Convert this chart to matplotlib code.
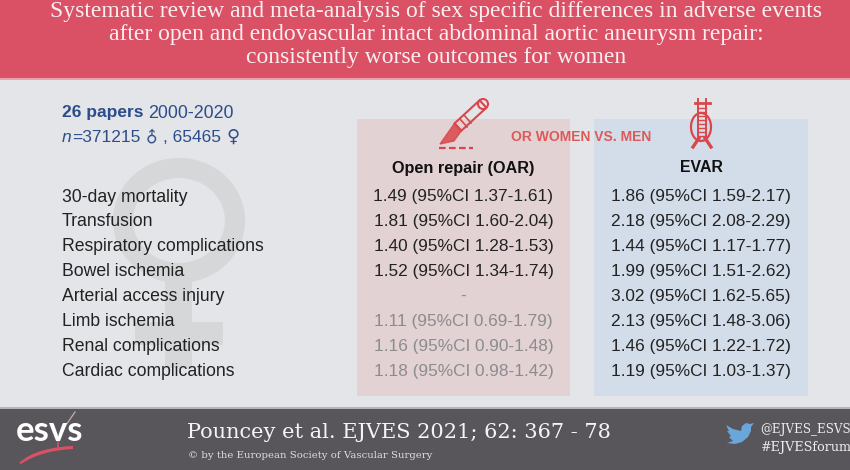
#!/usr/bin/env python3
"""Sex specific differences after AAA repair, graphical abstract."""
import matplotlib
matplotlib.use("Agg")
import matplotlib.pyplot as plt
from matplotlib.patches import Circle, Ellipse, PathPatch, Polygon, Rectangle
from matplotlib.path import Path

OUTCOMES = ["30-day mortality", "Transfusion", "Respiratory complications", "Bowel ischemia",
            "Arterial access injury", "Limb ischemia", "Renal complications", "Cardiac complications"]
OAR_OR = [1.49, 1.81, 1.40, 1.52, None, 1.11, 1.16, 1.18]
OAR_LOW = [1.37, 1.60, 1.28, 1.34, None, 0.69, 0.90, 0.98]
OAR_HIGH = [1.61, 2.04, 1.53, 1.74, None, 1.79, 1.48, 1.42]
EVAR_OR = [1.86, 2.18, 1.44, 1.99, 3.02, 2.13, 1.46, 1.19]
EVAR_LOW = [1.59, 2.08, 1.17, 1.51, 1.62, 1.48, 1.22, 1.03]
EVAR_HIGH = [2.17, 2.29, 1.77, 2.62, 5.65, 3.06, 1.72, 1.37]
TITLE_LINES = ["Systematic review and meta-analysis of sex specific differences in adverse events",
               "after open and endovascular intact abdominal aortic aneurysm repair:",
               "consistently worse outcomes for women"]

RED = "#da5064"
ICON_RED = "#d9474c"
BLUE = "#2c4d8c"
SANS = "Liberation Sans"
SERIF = "Liberation Serif"


def ci_label(value, low, high):
    if value is None:
        return "-"
    return f"{value:.2f} (95%CI {low:.2f}-{high:.2f})"


def is_grey(value, low):
    # confidence interval crosses 1 or no estimate
    return value is None or low < 1


def draw_scalpel(axis):
    axis.add_patch(Circle((483, 104), 5, fc="none", ec=ICON_RED, lw=1.5))
    axis.add_patch(Polygon([[479.6, 100.3], [454.6, 123.3], [461.4, 130.7], [486.4, 107.7]],
                           fc="none", ec=ICON_RED, lw=1.5))
    axis.add_patch(Polygon([[454.6, 123.3], [440, 144], [454, 141], [461.4, 130.7]],
                           fc=ICON_RED, ec=ICON_RED, lw=1, alpha=0.85))
    for start, end in [((460, 119), (467, 127)), ((464, 115), (471, 123))]:
        axis.plot([start[0], end[0]], [start[1], end[1]], color=ICON_RED, lw=1.2)
    axis.plot([439, 473], [148, 148], color=ICON_RED, lw=1.6, ls=(0, (3, 1.5)))


def draw_stent(axis):
    axis.plot([695, 710], [103, 103], color=ICON_RED, lw=2)
    axis.add_patch(Ellipse((701, 127), 20, 28, fc="none", ec=ICON_RED, lw=1.6))
    axis.plot([698, 698], [99, 140], color=ICON_RED, lw=1.4)
    axis.plot([706, 706], [99, 140], color=ICON_RED, lw=1.4)
    axis.plot([699, 693], [138, 147], color=ICON_RED, lw=2.4)
    axis.plot([705, 711], [138, 147], color=ICON_RED, lw=2.4)
    for level in range(108, 142, 4):
        axis.plot([698, 706], [level, level], color=ICON_RED, lw=1)


def draw_footer_marks(axis):
    # esvs logo swoosh
    swoosh = Path([(19, 463), (32, 451), (52, 447), (73, 446), (73, 449), (54, 450), (36, 454), (21, 464), (19, 463)],
                  [Path.MOVETO, Path.CURVE4, Path.CURVE4, Path.CURVE4, Path.LINETO,
                   Path.CURVE4, Path.CURVE4, Path.CURVE4, Path.CLOSEPOLY])
    axis.add_patch(PathPatch(swoosh, fc=RED, ec="none", zorder=3))
    axis.plot([58, 58], [441, 448], color=RED, lw=1.2, zorder=3)
    axis.plot([58, 66, 75], [441, 425, 412], color="#c9aab0", lw=0.9, zorder=2)
    axis.text(50, 441, "esvs", color="white", family="Lato", weight="bold", fontsize=25,
              ha="center", va="baseline", zorder=4)
    # twitter bird
    bird = [[726, 425], [733, 429], [741, 431], [742, 426], [746, 423], [750, 424], [754, 423],
            [751, 427], [751, 431], [748, 437], [742, 442], [735, 444], [727, 443], [733, 441],
            [729, 437], [731, 436], [727, 431], [729, 431]]
    axis.add_patch(Polygon(bird, fc="#6aa6da", ec="none"))


def main():
    figure = plt.figure(figsize=(8.5, 4.7), dpi=100, facecolor="#e4e5e8")
    axis = figure.add_axes([0, 0, 1, 1])
    axis.set_xlim(0, 850)
    axis.set_ylim(470, 0)
    axis.axis("off")

    # banners
    axis.add_patch(Rectangle((0, 0), 850, 78, fc=RED, ec="none"))
    axis.add_patch(Rectangle((0, 78), 850, 2, fc="#eea0aa", ec="none"))
    axis.add_patch(Rectangle((0, 408), 850, 62, fc="#58565a", ec="none"))
    axis.add_patch(Rectangle((0, 407), 850, 2, fc="#b5b5b7", ec="none"))
    for index, line in enumerate(TITLE_LINES):
        axis.text(436, 12 + index * 22.8, line, color="#fbeef0", family=SERIF, fontsize=17,
                  ha="center", va="center")

    # venus watermark
    grey = "#d6d7d9"
    axis.add_patch(Ellipse((179, 220.5), 112, 105, fc="none", ec=grey, lw=14.5))
    axis.add_patch(Rectangle((165, 278), 27, 90, fc=grey, ec="none"))
    axis.add_patch(Rectangle((135, 322), 88, 23, fc=grey, ec="none"))

    # method panels
    axis.add_patch(Rectangle((357, 119), 213, 277, fc="#e3d2d4", ec="none"))
    axis.add_patch(Rectangle((594, 119), 214, 277, fc="#d3dde9", ec="none"))
    draw_scalpel(axis)
    draw_stent(axis)
    axis.text(511, 137, "OR WOMEN VS. MEN", color="#dc5a58", family=SANS, weight="bold", fontsize=10,
              ha="left", va="center")

    # header text
    axis.text(62, 113, "26 papers", color=BLUE, family=SANS, weight="bold", fontsize=12.5, va="center")
    axis.text(148, 113, "2000-2020", color=BLUE, family=SANS, fontsize=12.9, va="center")
    axis.text(62, 137, "n", color=BLUE, family=SANS, style="italic", fontsize=12.5, va="center")
    axis.text(72, 137, "=371215", color=BLUE, family=SANS, fontsize=12.5, va="center")
    axis.text(152, 137, "\u2642", color=BLUE, family="DejaVu Sans", fontsize=11.5, rotation=45,
              ha="center", va="center")
    axis.text(163, 137, ", 65465", color=BLUE, family=SANS, fontsize=12.5, va="center")
    axis.text(233, 137, "\u2640", color=BLUE, family="DejaVu Sans", fontsize=13,
              ha="center", va="center")

    axis.text(463, 168, "Open repair (OAR)", color="#111111", family=SANS, weight="bold", fontsize=11.7,
              ha="center", va="center")
    axis.text(701, 168, "EVAR", color="#111111", family=SANS, weight="bold", fontsize=11.4,
              ha="center", va="center")

    # table rows
    for index, outcome in enumerate(OUTCOMES):
        y = 197 + index * 24.9
        axis.text(62, y, outcome, color="#222222", family=SANS, fontsize=12.7, va="center")
        oar_color = "#8c8c8e" if is_grey(OAR_OR[index], OAR_LOW[index]) else "#222222"
        axis.text(463.5, y, ci_label(OAR_OR[index], OAR_LOW[index], OAR_HIGH[index]), color=oar_color,
                  family=SANS, fontsize=12.4, ha="center", va="center")
        axis.text(701, y, ci_label(EVAR_OR[index], EVAR_LOW[index], EVAR_HIGH[index]), color="#222222",
                  family=SANS, fontsize=12.4, ha="center", va="center")

    # footer
    draw_footer_marks(axis)
    axis.text(187, 432, "Pouncey et al. EJVES 2021; 62: 367 - 78", color="#f4f4f4", family="DejaVu Serif",
              fontsize=15, va="center")
    axis.text(188, 455, "\u00a9 by the European Society of Vascular Surgery", color="#dddddd",
              family="DejaVu Serif", fontsize=7.3, va="center")
    axis.text(760, 430, "@EJVES_ESVS", color="#eeeeee", family="DejaVu Serif", fontsize=8.6, va="center")
    axis.text(760, 448, "#EJVESforum", color="#eeeeee", family="DejaVu Serif", fontsize=9.2, va="center")

    figure.savefig("out.png", dpi=100, facecolor=figure.get_facecolor())
    plt.close(figure)


if __name__ == "__main__":
    main()
